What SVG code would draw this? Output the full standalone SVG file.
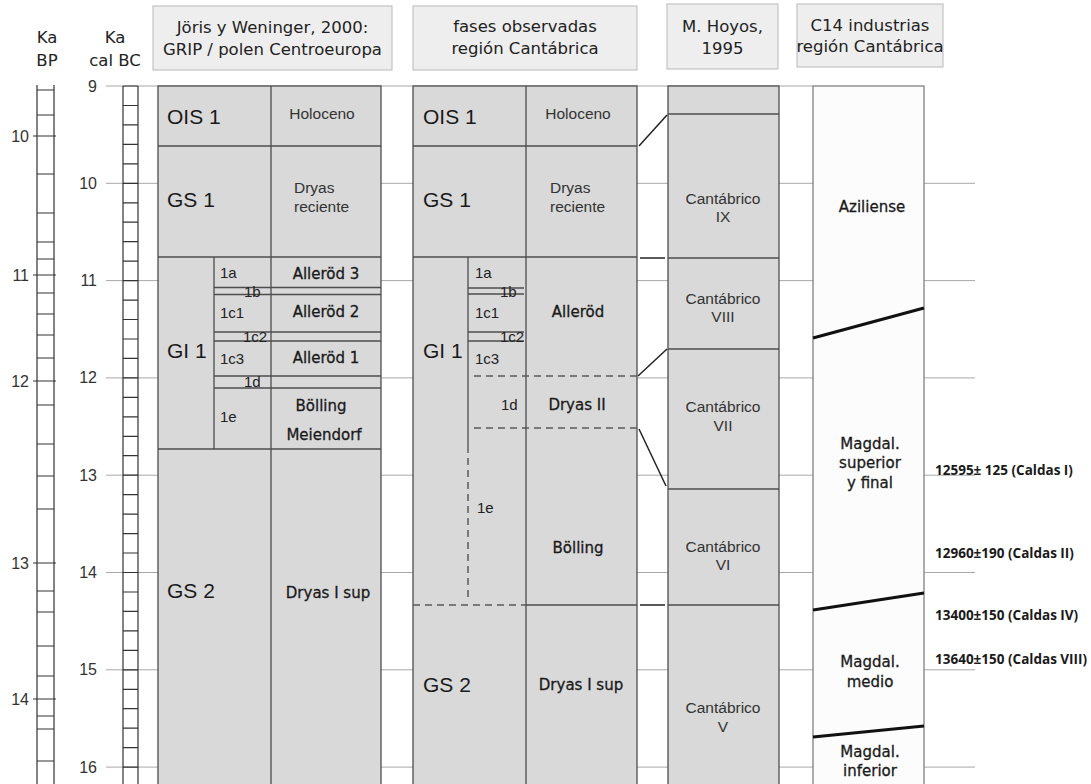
<svg xmlns="http://www.w3.org/2000/svg" width="1091" height="784" viewBox="0 0 1091 784">
<style>
.bg{fill:#ffffff}
.grid{stroke:#a8a8a8;stroke-width:1;fill:none}
.ruler{stroke:#333;stroke-width:1.2;fill:none}
.hbox{fill:#eeeeee;stroke:#c4c4c4;stroke-width:1.2}
.cell{fill:#d9d9d9;stroke:#4d4d4d;stroke-width:1.3}
.ln{stroke:#4d4d4d;stroke-width:1.3;fill:none}
.dash{stroke:#5a5a5a;stroke-width:1.5;stroke-dasharray:7 5;fill:none}
.c14{fill:#fcfcfc;stroke:#808080;stroke-width:1.3}
.thick{stroke:#111;stroke-width:3;fill:none}
.conn{stroke:#222;stroke-width:1.5;fill:none}
.hdr{font-family:"DejaVu Sans",Verdana,sans-serif;font-size:16.5px;fill:#222;text-anchor:middle}
.axis{font-family:"Liberation Sans",Arial,sans-serif;font-size:16px;fill:#333}
.big{font-family:"Liberation Sans",Arial,sans-serif;font-size:21px;fill:#1a1a1a}
.ar{font-family:"Liberation Sans",Arial,sans-serif;font-size:15.5px;fill:#333}
.sm{font-family:"Liberation Sans",Arial,sans-serif;font-size:15px;fill:#222}
.vd{font-family:"DejaVu Sans",Verdana,sans-serif;font-size:15px;fill:#1a1a1a;stroke:#1a1a1a;stroke-width:0.3;text-anchor:middle}
.rt{font-family:"Open Sans","DejaVu Sans",sans-serif;font-weight:700;font-size:13.5px;fill:#1a1a1a}
.mid{text-anchor:middle}
</style>
<rect class="bg" x="0" y="0" width="1091" height="784"/>

<g id="grid">
<path class="grid" d="M106 86H813M106 183.3H975M106 280.6H975M106 377.9H975M106 475.2H975M106 572.5H975M106 669.8H975M106 767.1H975"/>
</g>

<g id="scale-bp">
<text class="hdr" x="47" y="43">Ka</text>
<text class="hdr" x="47" y="66">BP</text>
<path class="ruler" d="M37 85V784M54 85V784M37 90H54M37 115H54M33 136H56M37 174H54M37 213H54M37 242H54M37 259H54M33 275H56M37 293H54M37 314H54M37 335H54M37 358H54M33 381H56M37 405H54M37 444H54M37 476H54M37 509H54M33 563H56M37 591H54M37 612H54M37 646H54M37 676H54M33 699H56M37 716H54M37 729H54M37 761H54"/>
<text class="axis" x="29" y="142" text-anchor="end">10</text>
<text class="axis" x="29" y="281" text-anchor="end">11</text>
<text class="axis" x="29" y="387" text-anchor="end">12</text>
<text class="axis" x="29" y="569" text-anchor="end">13</text>
<text class="axis" x="29" y="705" text-anchor="end">14</text>
</g>

<g id="scale-calbc">
<text class="hdr" x="115" y="43">Ka</text>
<text class="hdr" x="115" y="66">cal BC</text>
<path class="ruler" stroke="#444" d="M123 86V784M138 86V784M123 86H138M123 105.5H138M123 124.9H138M123 144.4H138M123 163.8H138M123 183.3H138M123 202.8H138M123 222.2H138M123 241.7H138M123 261.1H138M123 280.6H138M123 300.1H138M123 319.5H138M123 339H138M123 358.4H138M123 377.9H138M123 397.4H138M123 416.8H138M123 436.3H138M123 455.7H138M123 475.2H138M123 494.7H138M123 514.1H138M123 533.6H138M123 553H138M123 572.5H138M123 592H138M123 611.4H138M123 630.9H138M123 650.3H138M123 669.8H138M123 689.3H138M123 708.7H138M123 728.2H138M123 747.6H138M123 767.1H138"/>
<text class="axis" x="97" y="92" text-anchor="end">9</text>
<text class="axis" x="97" y="189" text-anchor="end">10</text>
<text class="axis" x="97" y="286" text-anchor="end">11</text>
<text class="axis" x="97" y="383" text-anchor="end">12</text>
<text class="axis" x="97" y="481" text-anchor="end">13</text>
<text class="axis" x="97" y="578" text-anchor="end">14</text>
<text class="axis" x="97" y="675" text-anchor="end">15</text>
<text class="axis" x="97" y="773" text-anchor="end">16</text>
</g>

<g id="header-joris">
<rect class="hbox" x="153" y="6" width="239" height="64"/>
<text class="hdr" x="272.5" y="33">Jöris y Weninger, 2000:</text>
<text class="hdr" x="272.5" y="55">GRIP / polen Centroeuropa</text>
</g>
<g id="header-fases">
<rect class="hbox" x="413" y="6" width="224" height="64"/>
<text class="hdr" x="525" y="32">fases observadas</text>
<text class="hdr" x="525" y="54">región Cantábrica</text>
</g>
<g id="header-hoyos">
<rect class="hbox" x="667" y="4" width="111" height="65"/>
<text class="hdr" x="722.5" y="32">M. Hoyos,</text>
<text class="hdr" x="722.5" y="54">1995</text>
</g>
<g id="header-c14">
<rect class="hbox" x="797" y="4" width="146" height="63"/>
<text class="hdr" x="870" y="31">C14 industrias</text>
<text class="hdr" x="870" y="52">región Cantábrica</text>
</g>

<g id="col-joris">
<rect class="cell" x="158" y="86" width="223" height="720"/>
<path class="ln" d="M271 86V790M158 146H381M158 257H381M214 257V449M214 287.5H381M214 294.5H381M214 332H381M214 341H381M214 376H381M214 388H381M158 449H381"/>
<text class="big" x="167" y="124">OIS 1</text>
<text class="ar mid" x="322" y="119">Holoceno</text>
<text class="big" x="167" y="207">GS 1</text>
<text class="ar" x="294" y="193">Dryas</text>
<text class="ar" x="294" y="212">reciente</text>
<text class="big" x="167" y="358">GI 1</text>
<text class="sm" x="220" y="278">1a</text>
<text class="sm" x="244" y="297">1b</text>
<text class="sm" x="220" y="318">1c1</text>
<text class="sm" x="243" y="342">1c2</text>
<text class="sm" x="220" y="364">1c3</text>
<text class="sm" x="244" y="387">1d</text>
<text class="sm" x="220" y="422">1e</text>
<text class="vd" x="326" y="279">Alleröd 3</text>
<text class="vd" x="326" y="317">Alleröd 2</text>
<text class="vd" x="326" y="363">Alleröd 1</text>
<text class="vd" x="321" y="411">Bölling</text>
<text class="vd" x="324" y="440">Meiendorf</text>
<text class="big" x="167" y="598">GS 2</text>
<text class="vd" x="328" y="598">Dryas I sup</text>
</g>

<g id="col-fases">
<rect class="cell" x="413" y="86" width="224" height="720"/>
<path class="ln" d="M526 86V790M413 146H637M413 257H637M468 257V453M468 288H524M468 294H524M468 332H524M468 341H524M526 605H637"/>
<path class="dash" d="M474 376H637M474 428H637M413 605H526M468 458V600"/>
<text class="big" x="423" y="124">OIS 1</text>
<text class="ar mid" x="578" y="119">Holoceno</text>
<text class="big" x="423" y="207">GS 1</text>
<text class="ar" x="550" y="193">Dryas</text>
<text class="ar" x="550" y="212">reciente</text>
<text class="big" x="423" y="358">GI 1</text>
<text class="sm" x="475" y="278">1a</text>
<text class="sm" x="500" y="297">1b</text>
<text class="sm" x="475" y="318">1c1</text>
<text class="sm" x="500" y="342">1c2</text>
<text class="sm" x="475" y="364">1c3</text>
<text class="sm" x="501" y="410">1d</text>
<text class="vd" x="578" y="317">Alleröd</text>
<text class="vd" x="577" y="410">Dryas II</text>
<text class="sm" x="477" y="513">1e</text>
<text class="vd" x="578" y="553">Bölling</text>
<text class="big" x="423" y="692">GS 2</text>
<text class="vd" x="581" y="690">Dryas I sup</text>
</g>

<g id="col-hoyos">
<rect class="cell" x="668" y="86" width="111" height="720"/>
<path class="ln" d="M668 114H779M668 258H779M668 349H779M668 489H779M668 605H779"/>
<text class="ar mid" x="723" y="204">Cantábrico</text>
<text class="ar mid" x="723" y="222">IX</text>
<text class="ar mid" x="723" y="304">Cantábrico</text>
<text class="ar mid" x="723" y="322">VIII</text>
<text class="ar mid" x="723" y="412">Cantábrico</text>
<text class="ar mid" x="723" y="431">VII</text>
<text class="ar mid" x="723" y="552">Cantábrico</text>
<text class="ar mid" x="723" y="570">VI</text>
<text class="ar mid" x="723" y="713">Cantábrico</text>
<text class="ar mid" x="723" y="732">V</text>
</g>

<g id="col-c14">
<rect class="c14" x="813" y="86" width="111" height="720"/>
<path class="thick" d="M813 338L924 308M813 610L924 593M813 737L924 726"/>
<text class="vd" x="872" y="212">Aziliense</text>
<text class="vd" x="870" y="449">Magdal.</text>
<text class="vd" x="870" y="468">superior</text>
<text class="vd" x="870" y="488">y final</text>
<text class="vd" x="870" y="667">Magdal.</text>
<text class="vd" x="870" y="687">medio</text>
<text class="vd" x="870" y="757">Magdal.</text>
<text class="vd" x="870" y="776">inferior</text>
</g>

<g id="dates">
<text class="rt" x="935" y="475">12595± 125 (Caldas I)</text>
<text class="rt" x="935" y="558">12960±190 (Caldas II)</text>
<text class="rt" x="935" y="620">13400±150 (Caldas IV)</text>
<text class="rt" x="935" y="664">13640±150 (Caldas VIII)</text>
</g>

<g id="connectors">
<line class="conn" x1="639" y1="146" x2="667" y2="115"/>
<line class="conn" x1="640" y1="258" x2="665" y2="258" stroke-width="2"/>
<line class="conn" x1="638" y1="376" x2="667" y2="349"/>
<line class="conn" x1="639" y1="429" x2="666" y2="486"/>
<line class="conn" x1="640" y1="605" x2="665" y2="605" stroke-width="2"/>
</g>
</svg>
